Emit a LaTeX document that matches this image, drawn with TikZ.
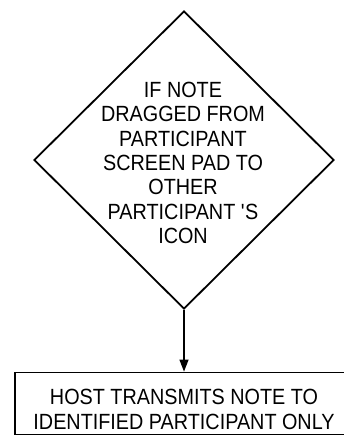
\documentclass[tikz,border=0pt]{standalone}
\usepackage{fontspec}
\setmainfont{Liberation Sans}[FakeStretch=0.9]
\usetikzlibrary{arrows.meta, shapes.geometric}

\begin{document}
\begin{tikzpicture}[x=1pt, y=-1pt,
  decision/.style={draw, diamond, line width=1.8pt, minimum width=300pt, minimum height=298pt, inner sep=0pt},
  process/.style={draw, rectangle, line width=1.3pt, minimum width=338pt, minimum height=62.5pt, inner sep=0pt},
  flowtext/.style={align=center, inner sep=0pt, font=\fontsize{22}{24.3}\selectfont}]
  \useasboundingbox (0,0) rectangle (343,435);
  \node[decision] (check) at (184,160) {};
  \node[flowtext] (checktext) at (183,163) {IF NOTE\\DRAGGED FROM\\PARTICIPANT\\SCREEN PAD TO\\OTHER\\PARTICIPANT \textquotesingle S\\ICON};
  \node[process] (send) at (184,403.5) {};
  \node[flowtext] (sendtext) at (184,409.5) {HOST TRANSMITS NOTE TO\\IDENTIFIED PARTICIPANT ONLY};
  \draw[-{Triangle[length=12pt,width=9pt]}, line width=1.3pt] (check.south) -- (send.north);
\end{tikzpicture}
\end{document}
